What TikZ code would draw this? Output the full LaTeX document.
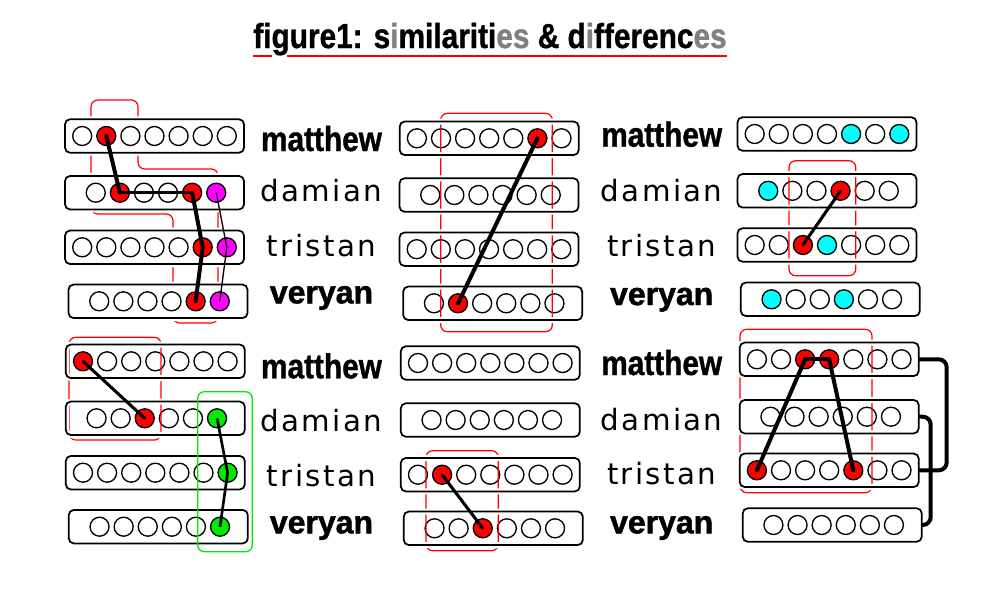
\documentclass[tikz,border=0pt]{standalone}
\usepackage{fontspec}
\usetikzlibrary{calc}
\newfontfamily\heavyfont{Liberation Sans}[FakeStretch=0.86,FakeBold=1]
\newfontfamily\slimfont{DejaVu Sans}[LetterSpace=8]
\newfontfamily\blockfont{Liberation Sans}[FakeBold=1.5]
\definecolor{fuchsia}{RGB}{255,0,255}
\definecolor{aqua}{RGB}{0,255,255}
\definecolor{lime}{RGB}{0,235,0}
\pgfdeclarelayer{back}
\pgfdeclarelayer{background}
\pgfdeclarelayer{marks}
\pgfdeclarelayer{foreground}
\pgfsetlayers{back,background,marks,main,foreground}
\tikzset{bar/.style={rectangle,rounded corners=3.75pt,minimum width=134.25pt,
minimum height=25.1pt,inner sep=0pt,outer sep=0pt,fill=white},
rim/.style={bar,fill=none,draw=white,line width=4.5pt},
barline/.style={bar,fill=none,draw=black,line width=1.3pt},
hole/.style={circle,draw=black,line width=1pt,minimum size=14.25pt,inner sep=0pt},
heavy/.style={font=\heavyfont\bfseries\fontsize{26}{26}\selectfont,anchor=base,inner sep=0pt},
slim/.style={font=\slimfont\fontsize{22}{22}\selectfont,anchor=base,inner sep=0pt},
blocky/.style={font=\blockfont\bfseries\fontsize{24}{24}\selectfont,anchor=base,inner sep=0pt},
fat/.style={line width=3pt,line cap=round},
link/.style={line width=2.3pt,line cap=round},
fine/.style={line width=1pt},
redbox/.style={draw=red,line width=0.9pt,rounded corners=5pt},
greenbox/.style={draw=lime,line width=1pt,rounded corners=5pt},
underline/.style={draw=red,line width=1.3pt},
jumper/.style={line width=3pt,rounded corners=6pt}}
\newcommand{\faded}[1]{\textcolor{gray}{#1}}
\newcommand{\tube}[4]{
\begin{pgfonlayer}{background}
\node (#1) [bar] at (#2) {};
\foreach \c [count=\i] in {#4} {
  \pgfmathsetmacro\dx{(\i-(#3+1)/2)*24.1+(7-#3)*1.5}
  \node (#1-\i) [hole,fill=\c] at ($(#1)+(\dx,0)$) {};
}
\end{pgfonlayer}
\node [rim] at (#1) {};
\node [barline] at (#1) {};
}
\newcommand{\crew}[6]{
\node (#1-matthew) [heavy] at (#2,#3) {matthew};
\node (#1-damian) [slim] at (#2,#4) {damian};
\node (#1-tristan) [slim] at (#2,#5) {tristan};
\node (#1-veryan) [blocky] at (#2,#6) {veryan};
}
\begin{document}
\begin{tikzpicture}[x=0.75pt,y=-0.75pt]
  \useasboundingbox (0,0) rectangle (994,600);
  \node (title) [heavy] at (490,48) {figure1: s\faded{i}milariti\faded{es} \& d\faded{i}fferenc\faded{es}};
  \draw [underline] ($(title.base west)+(0,8)$) -- ++(19,0);
  \draw [underline] ($(title.base west)+(34,8)$) -- ($(title.base east)+(0,8)$);

  \begin{pgfonlayer}{back}
    \draw [redbox] (173,214) -- (91,214) -- (91,100) -- (138,100) -- (138,169)
      -- (218,169) -- (218,323) -- (173,323) -- cycle;
  \end{pgfonlayer}

  % top left
  \tube{ma}{154.5,136}{7}{white,red,white,white,white,white,white}
  \tube{da}{154.5,192.7}{6}{white,red,white,white,red,fuchsia}
  \tube{ta}{154.5,247.3}{7}{white,white,white,white,white,red,fuchsia}
  \tube{va}{158,301.3}{6}{white,white,white,white,red,fuchsia}
  \crew{a}{321.5}{151}{201.7}{256.7}{303.3}
  % top middle
  \tube{mb}{489.2,138.3}{7}{white,white,white,white,white,red,white}
  \tube{db}{489,195}{6}{white,white,white,white,white,white}
  \tube{tb}{489,249.2}{7}{white,white,white,white,white,white,white}
  \tube{vb}{492.7,303.3}{6}{white,red,white,white,white,white}
  % top right
  \tube{mc}{827,134}{7}{white,white,white,white,aqua,white,aqua}
  \tube{dc}{827,190.8}{6}{aqua,white,white,red,white,white}
  \tube{tc}{827,245}{7}{white,white,red,aqua,white,white,white}
  \tube{vc}{830.3,299.3}{6}{aqua,white,white,aqua,white,white}
  \crew{c}{661.7}{146.7}{201.7}{256}{305}
  % bottom left
  \tube{md}{155.3,361.3}{7}{red,white,white,white,white,white,white}
  \tube{dd}{155.3,418.3}{6}{white,white,red,white,white,lime}
  \tube{td}{155.3,472.7}{7}{white,white,white,white,white,white,lime}
  \tube{vd}{158.3,526.7}{6}{white,white,white,white,white,lime}
  \crew{d}{321.5}{378.3}{431.7}{486.7}{533.3}
  % bottom middle
  \tube{me}{490.3,363}{7}{white,white,white,white,white,white,white}
  \tube{de}{490.3,420}{6}{white,white,white,white,white,white}
  \tube{te}{490.3,474.7}{7}{white,red,white,white,white,white,white}
  \tube{ve}{493.3,528.3}{6}{white,white,red,white,white,white}
  % bottom right
  \tube{mf}{829.2,359.3}{7}{white,white,red,red,white,white,white}
  \tube{df}{829.2,416.7}{6}{white,white,white,white,white,white}
  \tube{tf}{829.2,470.3}{7}{red,white,white,white,red,white,white}
  \tube{vf}{832.2,525}{6}{white,white,white,white,white,white}
  \crew{f}{661.7}{375}{430}{484}{533.3}

  \begin{pgfonlayer}{marks}
    \draw [redbox] (440.7,113.3) rectangle (552.3,331.7);
    \draw [redbox] (789,160.7) rectangle (855.7,275.7);
    \draw [redbox] (69,337.3) rectangle (161,440);
    \draw [redbox] (426,450.7) rectangle (498.3,550.7);
    \draw [redbox] (740,329.3) rectangle (872,492.7);
  \end{pgfonlayer}
  \draw [greenbox] (197.7,391.7) rectangle (252.3,551.7);

  \draw [fat] (ma-2.center) -- (da-2.center);
  \draw [link] (da-2.center) -- (da-5.center);
  \draw [fat] (da-5.center) -- (ta-6.center) -- (va-5.center);
  \draw [fine] (da-6.center) -- (ta-7.center) -- (va-6.center);
  \draw [fat] (mb-6.center) -- (vb-2.center);
  \draw [link] (dc-4.center) -- (tc-3.center);
  \draw [link] (md-1.center) -- (dd-3.center);
  \draw [line width=2pt] (dd-6.center) -- (td-7.center) -- (vd-6.center);
  \draw [link] (te-2.center) -- (ve-3.center);
  \draw [fat] (mf-3.center) -- (mf-4.center);
  \draw [fat] (mf-3.center) -- (tf-1.center);
  \draw [fat] (mf-4.center) -- (tf-5.center);
  \draw [jumper] (mf.east) -- ++(28,0) |- (tf.east);
  \draw [jumper] (df.east) -- ++(12,0) |- (vf.east);
\end{tikzpicture}
\end{document}
